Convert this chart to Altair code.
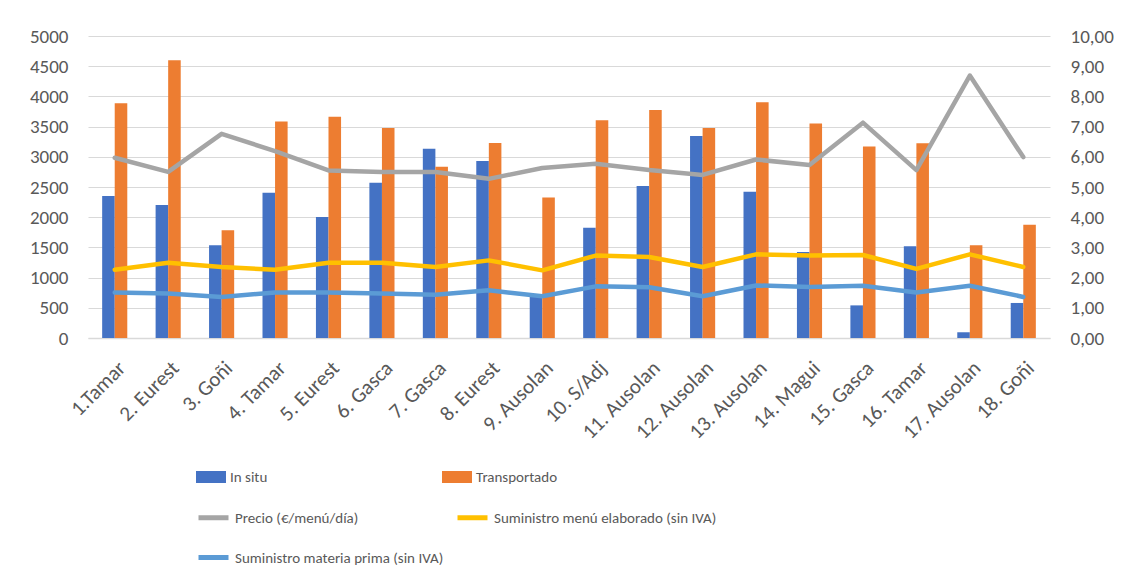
import altair as alt
import pandas as pd

categorias = ["1.Tamar", "2. Eurest", "3. Goñi", "4. Tamar", "5. Eurest", "6. Gasca",
              "7. Gasca", "8. Eurest", "9. Ausolan", "10. S/Adj", "11. Ausolan",
              "12. Ausolan", "13. Ausolan", "14. Magui", "15. Gasca", "16. Tamar",
              "17. Ausolan", "18. Goñi"]
in_situ = [2350, 2200, 1535, 2405, 2005, 2570, 3135, 2930, 690, 1825, 2515, 3345,
           2420, 1425, 540, 1520, 95, 580]
transportado = [3885, 4600, 1785, 3585, 3665, 3475, 2835, 3230, 2325, 3605, 3775,
                3475, 3905, 3550, 3170, 3225, 1535, 1875]
precio = [5.97, 5.50, 6.76, 6.19, 5.55, 5.50, 5.50, 5.27, 5.63, 5.77, 5.56, 5.40,
          5.91, 5.73, 7.13, 5.56, 8.69, 5.99]
menu_elaborado = [2.26, 2.49, 2.35, 2.26, 2.49, 2.49, 2.35, 2.57, 2.24, 2.73, 2.68,
                  2.35, 2.77, 2.73, 2.75, 2.29, 2.77, 2.35]
materia_prima = [1.51, 1.47, 1.36, 1.51, 1.51, 1.47, 1.43, 1.58, 1.38, 1.71, 1.68,
                 1.38, 1.74, 1.69, 1.73, 1.51, 1.73, 1.36]

bar_series = ["In situ", "Transportado"]
bar_colors = ["#4472C4", "#ED7D31"]
line_series = ["Precio (€/menú/día)", "Suministro menú elaborado (sin IVA)",
               "Suministro materia prima (sin IVA)"]
line_colors = ["#A5A5A5", "#FFC000", "#5B9BD5"]

bars_df = pd.DataFrame(
    [{"cat": c, "serie": bar_series[0], "valor": v, "orden": i} for i, (c, v) in enumerate(zip(categorias, in_situ))]
    + [{"cat": c, "serie": bar_series[1], "valor": v, "orden": i} for i, (c, v) in enumerate(zip(categorias, transportado))]
)
lines_df = pd.DataFrame(
    [{"cat": c, "serie": s, "valor": v, "orden": i}
     for s, vals in zip(line_series, [precio, menu_elaborado, materia_prima])
     for i, (c, v) in enumerate(zip(categorias, vals))]
)

FONT = "Carlito, Liberation Sans, sans-serif"
LEG_FONT = "Liberation Sans Narrow, Carlito, Liberation Sans, sans-serif"
GREY = "#595959"

x_enc = alt.X("cat:N", sort=categorias, title=None,
              scale=alt.Scale(paddingInner=0.53, paddingOuter=0.265),
              axis=alt.Axis(labelAngle=-45, labelFontSize=21, labelColor=GREY,
                            labelFont=FONT, ticks=False, domainColor="#D9D9D9",
                            labelPadding=19, domainWidth=1.5))

bars = alt.Chart(bars_df).mark_bar().encode(
    x=x_enc,
    xOffset=alt.XOffset("serie:N", sort=bar_series),
    y=alt.Y("valor:Q", title=None,
            scale=alt.Scale(domain=[0, 5000]),
            axis=alt.Axis(values=list(range(0, 5001, 500)), orient="left", format="d",
                          domain=False, ticks=False, gridColor="#D9D9D9", gridWidth=1.2,
                          labelFontSize=19, labelColor=GREY, labelFont=FONT,
                          labelPadding=20)),
    color=alt.Color("serie:N", sort=bar_series,
                    scale=alt.Scale(domain=bar_series, range=bar_colors),
                    legend=alt.Legend(title=None, orient="none", legendX=108, legendY=426,
                                      direction="horizontal",
                                      columns=2, columnPadding=174, labelLimit=400,
                                      symbolType="M-1,-0.4H1V0.4H-1Z", symbolSize=900,
                                      symbolStrokeWidth=0, labelFontSize=15,
                                      labelFont=LEG_FONT, labelColor=GREY, labelOffset=4)),
)

lines = alt.Chart(lines_df).mark_line(strokeWidth=4.5, strokeJoin="round", strokeCap="round").encode(
    x=alt.X("cat:N", sort=categorias),
    y=alt.Y("valor:Q", title=None,
            scale=alt.Scale(domain=[0, 10]),
            axis=alt.Axis(values=list(range(0, 11)), orient="right", grid=False,
                          domain=False, ticks=False, labelFontSize=19, labelColor=GREY,
                          labelFont=FONT, labelPadding=20,
                          labelExpr="replace(format(datum.value, '.2f'), '.', ',')")),
    color=alt.Color("serie:N", sort=line_series,
                    scale=alt.Scale(domain=line_series, range=line_colors),
                    legend=alt.Legend(title=None, orient="none", legendX=108, legendY=464,
                                      direction="horizontal",
                                      columns=2, columnPadding=3, rowPadding=12,
                                      labelLimit=400,
                                      symbolType="stroke", symbolSize=900,
                                      symbolStrokeWidth=5, labelFontSize=15,
                                      labelFont=LEG_FONT, labelColor=GREY, labelOffset=4)),
    order="orden:Q",
)

chart = alt.layer(bars, lines).resolve_scale(
    y="independent", color="independent"
).properties(
    width=962, height=302,
    autosize=alt.AutoSizeParams(type="none"),
    padding={"left": 80, "top": 28, "right": 67, "bottom": 236},
).configure(background="white").configure_view(stroke=None)

chart.save("out.html", embed_options={"renderer": "svg", "actions": False})
